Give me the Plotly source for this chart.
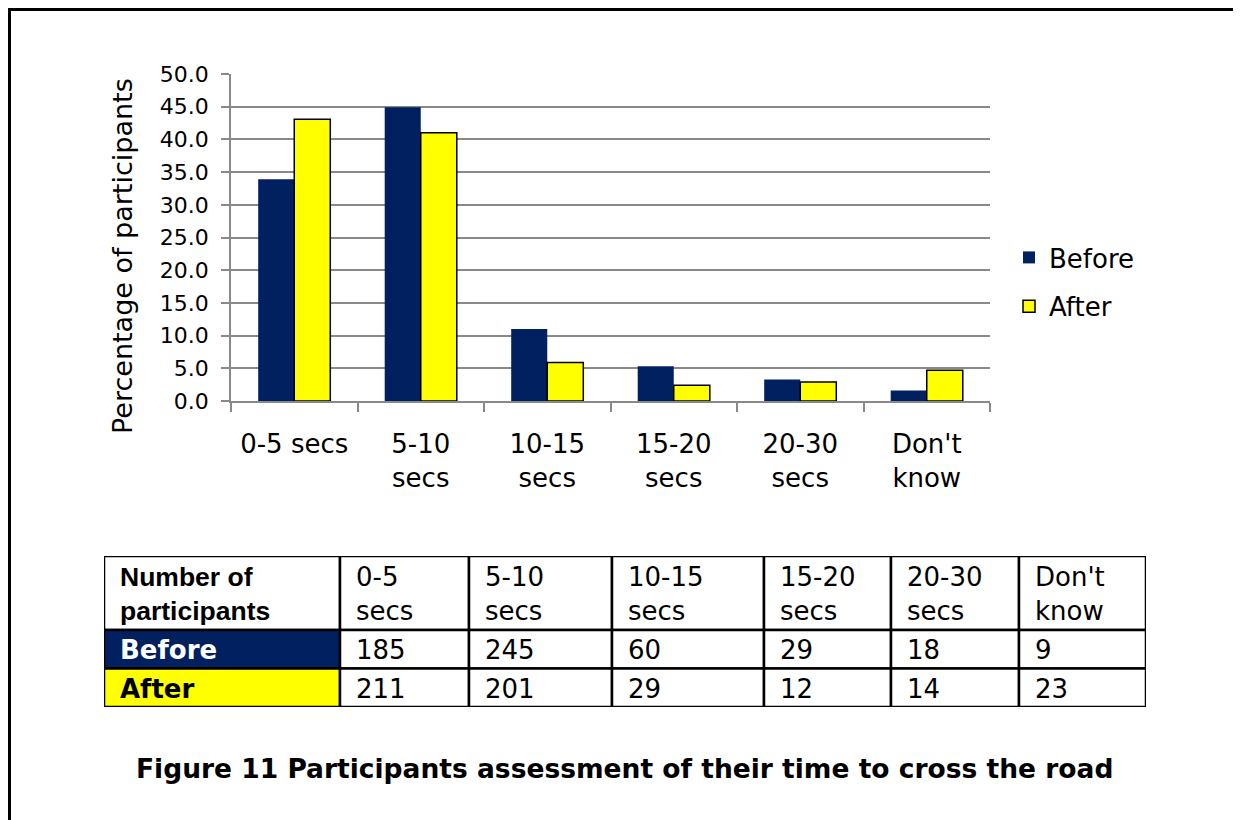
import plotly.graph_objects as go

categories = ["0-5 secs", "5-10 secs", "10-15 secs", "15-20 secs", "20-30 secs", "Don't know"]
axis_labels = ["0-5 secs", "5-10<br>secs", "10-15<br>secs", "15-20<br>secs", "20-30<br>secs", "Don't<br>know"]
table_labels = ["0-5<br>secs", "5-10<br>secs", "10-15<br>secs", "15-20<br>secs", "20-30<br>secs", "Don't<br>know"]
series_names = ["Before", "After"]
before_pct = [33.9, 44.9, 11.0, 5.3, 3.3, 1.6]
after_pct = [43.1, 41.0, 5.9, 2.4, 2.9, 4.7]
before_n = [185, 245, 60, 29, 18, 9]
after_n = [211, 201, 29, 12, 14, 23]
table_corner = "Number of<br>participants"
y_title = "Percentage of participants"
caption = "Figure 11 Participants assessment of their time to cross the road"

# ---- styling / layout (screen-pixel coordinates of the page) ----
W, H = 1241, 820
OFF = 8  # default page body margin
NAVY = "#002060"
YELLOW = "#FFFF00"
GRID = "#898989"
FONT = "DejaVu Sans"
BIG = 26

def fx(x):
    return (x - OFF) / W

def fy(y):
    return (H + OFF - y) / H

col_edges = [104, 340, 469, 612, 764, 891, 1019, 1146]
row_edges = [556, 630, 668.5, 707]
PAD = 16
VSHIFT = 3.5

fig = go.Figure()
fig.add_trace(go.Bar(
    x=categories, y=before_pct, name=series_names[0],
    marker=dict(color=NAVY, line=dict(color=NAVY, width=0)),
    legendgroup="b",
))
fig.add_trace(go.Bar(
    x=categories, y=after_pct, name=series_names[1],
    marker=dict(color=YELLOW, line=dict(color="black", width=1.5)),
    legendgroup="a",
))

# ---- table built from the data arrays ----
rows = [
    ["<b>" + table_corner + "</b>"] + table_labels,
    ["<b>" + series_names[0] + "</b>"] + [str(v) for v in before_n],
    ["<b>" + series_names[1] + "</b>"] + [str(v) for v in after_n],
]
row_fill = [["white"] * 7,
            [NAVY] + ["white"] * 6,
            [YELLOW] + ["white"] * 6]
row_color = [["black"] * 7,
             ["white"] + ["black"] * 6,
             ["black"] * 7]

tx, ty, tt, tcol, tfam, tsize = [], [], [], [], [], []
shapes = []
for r, row in enumerate(rows):
    y0, y1 = row_edges[r], row_edges[r + 1]
    for c, txt in enumerate(row):
        x0, x1 = col_edges[c], col_edges[c + 1]
        shapes.append(dict(type="rect", xref="x2", yref="y2",
                           x0=x0, x1=x1, y0=y0, y1=y1,
                           fillcolor=row_fill[r][c],
                           line=dict(color="black", width=2.5), layer="below"))
        tx.append(x0 + PAD)
        ty.append((y0 + y1) / 2 + VSHIFT)
        tt.append(txt)
        tcol.append(row_color[r][c])
        if r == 0 and c == 0:
            tfam.append("Liberation Sans")
            tsize.append(26.5)
        else:
            tfam.append(FONT)
            tsize.append(BIG)

fig.add_trace(go.Scatter(
    x=tx, y=ty, text=tt, mode="text", textposition="middle right",
    textfont=dict(family=tfam, size=tsize, color=tcol),
    xaxis="x2", yaxis="y2", showlegend=False, hoverinfo="skip",
    cliponaxis=False,
))

shapes.append(dict(
    type="rect", xref="paper", yref="paper",
    x0=fx(9.5), x1=1.05, y0=-0.05, y1=fy(9.5),
    line=dict(color="black", width=3), fillcolor="rgba(0,0,0,0)",
    layer="below",
))

fig.update_layout(
    width=W, height=H,
    margin=dict(l=0, r=0, t=0, b=0),
    paper_bgcolor="white", plot_bgcolor="rgba(0,0,0,0)",
    barmode="group", bargap=0.43, bargroupgap=0,
    font=dict(family=FONT, color="black"),
    showlegend=True,
    legend=dict(
        x=fx(1009), y=fy(234), xanchor="left", yanchor="top",
        font=dict(family=FONT, size=BIG, color="black"),
        traceorder="grouped", tracegroupgap=12,
        bgcolor="rgba(0,0,0,0)",
    ),
    xaxis=dict(
        domain=[fx(231), fx(990)],
        type="category",
        tickmode="array", tickvals=categories, ticktext=axis_labels,
        tickson="boundaries", ticks="outside", ticklen=9, tickwidth=1.5,
        tickcolor=GRID, showline=True, linecolor=GRID, linewidth=1.5,
        showgrid=False, automargin=False, ticklabelstandoff=19,
        tickfont=dict(family=FONT, size=BIG, color="black"),
    ),
    yaxis=dict(
        domain=[fy(401), fy(74)],
        range=[0, 50], dtick=5, tickformat=".1f",
        ticks="outside", ticklen=8, tickwidth=1.5, tickcolor=GRID,
        showline=True, linecolor=GRID, linewidth=1.5,
        showgrid=True, gridcolor=GRID, gridwidth=1.5,
        zeroline=False, automargin=False, ticklabelstandoff=8,
        tickfont=dict(family=FONT, size=22, color="black"),
    ),
    xaxis2=dict(domain=[fx(col_edges[0]), fx(col_edges[-1])],
                range=[col_edges[0], col_edges[-1]], visible=False,
                anchor="y2", fixedrange=True),
    yaxis2=dict(domain=[fy(row_edges[-1]), fy(row_edges[0])],
                range=[row_edges[-1], row_edges[0]], visible=False,
                anchor="x2", fixedrange=True),
    shapes=shapes,
    annotations=[
        dict(text=y_title, xref="paper", yref="paper", x=fx(122), y=fy(256),
             xanchor="center", yanchor="middle", textangle=-90, showarrow=False,
             font=dict(family=FONT, size=27, color="black")),
        dict(text="<b>" + caption + "</b>", xref="paper", yref="paper",
             x=fx(624), y=fy(768), xanchor="center", yanchor="middle",
             showarrow=False, font=dict(family=FONT, size=26.5, color="black")),
    ],
)

fig.write_html("out.html")
